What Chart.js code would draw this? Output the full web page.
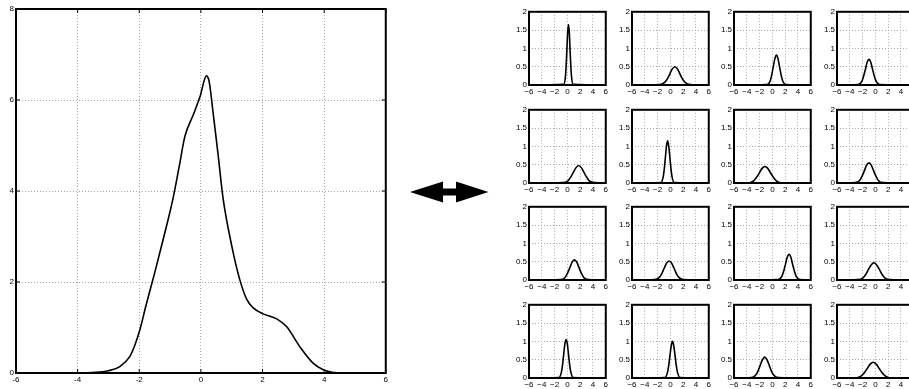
<!DOCTYPE html>
<html>
<head>
<meta charset="utf-8">
<script src="https://cdn.jsdelivr.net/npm/chart.js@4"></script>
<style>
    html, body { margin: 0; padding: 0; background: #fff; }
    body { width: 909px; height: 389px; position: relative; overflow: hidden; }
    canvas { position: absolute; }
    #arrow { position: absolute; left: 0; top: 0; }
</style>
</head>
<body>
<canvas id="big" width="390" height="389" style="left:0;top:0"></canvas>
<div id="small-wrap"></div>
<svg id="arrow" width="909" height="389">
    <polygon points="410,192 443,181.5 443,188.5 456,188.5 456,181.5 488.5,192 456,202.5 456,195.5 443,195.5 443,202.5" fill="#000"/>
</svg>
<script>
// axis ticks
const xTicks = [-6, -4, -2, 0, 2, 4, 6];
const bigYTicks = [0, 2, 4, 6, 8];
const smallYTicks = [0, 0.5, 1, 1.5, 2];

// big density curve
const bigX = [-6, -4, -3.5, -3.0, -2.63, -2.31, -2.15, -1.98, -1.79, -1.5, -1.2, -0.9, -0.7, -0.52, -0.25, -0.03, 0.18, 0.27, 0.4, 0.55, 0.72, 1.0, 1.25, 1.48, 1.7, 2.02, 2.46, 2.78, 3.21, 3.65, 3.97, 4.3, 4.6, 6];
const bigY = [0, 0, 0.01, 0.05, 0.14, 0.36, 0.6, 0.95, 1.46, 2.2, 3.0, 3.85, 4.55, 5.2, 5.67, 6.07, 6.53, 6.4, 5.7, 4.85, 3.84, 2.8, 2.08, 1.63, 1.43, 1.3, 1.19, 1.02, 0.58, 0.21, 0.07, 0.01, 0, 0];

// 4x4 small panels, row by row
const smallX = [
    [-6, -0.55, -0.31, -0.19, -0.07, 0.05, 0.17, 0.29, 0.41, 0.53, 0.65, 0.89, 6],
    [-6, -1.7, -0.9, -0.5, -0.1, 0.3, 0.7, 1.1, 1.5, 1.9, 2.3, 3.1, 6],
    [-6, -0.84, -0.35, -0.11, 0.14, 0.39, 0.63, 0.88, 1.12, 1.37, 1.61, 2.1, 6],
    [-6, -2.71, -2.14, -1.86, -1.57, -1.29, -1.0, -0.72, -0.43, -0.15, 0.14, 0.71, 6],
    [-6, -0.73, 0.1, 0.52, 0.93, 1.35, 1.76, 2.18, 2.59, 3.01, 3.42, 4.25, 6],
    [-6, -1.48, -1.13, -0.96, -0.78, -0.61, -0.43, -0.26, -0.08, 0.1, 0.27, 0.62, 6],
    [-6, -3.83, -2.94, -2.5, -2.05, -1.61, -1.16, -0.72, -0.27, 0.18, 0.62, 1.51, 6],
    [-6, -3.19, -2.46, -2.1, -1.73, -1.37, -1.0, -0.64, -0.27, 0.1, 0.46, 1.19, 6],
    [-6, -1.09, -0.36, 0.0, 0.37, 0.74, 1.1, 1.47, 1.83, 2.2, 2.56, 3.29, 6],
    [-6, -2.51, -1.74, -1.36, -0.97, -0.59, -0.2, 0.19, 0.57, 0.96, 1.34, 2.11, 6],
    [-6, 0.89, 1.46, 1.75, 2.03, 2.32, 2.6, 2.89, 3.17, 3.46, 3.74, 4.31, 6],
    [-6, -2.78, -1.93, -1.51, -1.08, -0.66, -0.23, 0.2, 0.62, 1.05, 1.47, 2.32, 6],
    [-6, -1.34, -0.96, -0.77, -0.58, -0.39, -0.2, -0.01, 0.18, 0.37, 0.56, 0.94, 6],
    [-6, -0.87, -0.47, -0.27, -0.07, 0.13, 0.33, 0.53, 0.73, 0.93, 1.13, 1.53, 6],
    [-6, -3.3, -2.6, -2.25, -1.9, -1.55, -1.2, -0.85, -0.5, -0.15, 0.2, 0.9, 6],
    [-6, -3.13, -2.2, -1.74, -1.27, -0.81, -0.34, 0.13, 0.59, 1.06, 1.52, 2.45, 6]
];
const smallY = [
    [0, 0.02, 0.22, 0.54, 1.0, 1.46, 1.65, 1.46, 1.0, 0.54, 0.22, 0.02, 0],
    [0, 0.01, 0.07, 0.16, 0.30, 0.44, 0.5, 0.44, 0.30, 0.16, 0.07, 0.01, 0],
    [0, 0.01, 0.11, 0.27, 0.50, 0.72, 0.82, 0.72, 0.50, 0.27, 0.11, 0.01, 0],
    [0, 0.01, 0.09, 0.23, 0.42, 0.62, 0.7, 0.62, 0.42, 0.23, 0.09, 0.01, 0],
    [0, 0.01, 0.06, 0.16, 0.29, 0.42, 0.48, 0.42, 0.29, 0.16, 0.06, 0.01, 0],
    [0, 0.01, 0.16, 0.37, 0.70, 1.01, 1.15, 1.01, 0.70, 0.37, 0.16, 0.01, 0],
    [0, 0.0, 0.06, 0.15, 0.27, 0.40, 0.45, 0.40, 0.27, 0.15, 0.06, 0.0, 0],
    [0, 0.01, 0.07, 0.18, 0.33, 0.49, 0.55, 0.49, 0.33, 0.18, 0.07, 0.01, 0],
    [0, 0.01, 0.07, 0.18, 0.33, 0.49, 0.55, 0.49, 0.33, 0.18, 0.07, 0.01, 0],
    [0, 0.01, 0.07, 0.17, 0.32, 0.46, 0.52, 0.46, 0.32, 0.17, 0.07, 0.01, 0],
    [0, 0.01, 0.09, 0.23, 0.42, 0.62, 0.7, 0.62, 0.42, 0.23, 0.09, 0.01, 0],
    [0, 0.01, 0.06, 0.15, 0.29, 0.41, 0.47, 0.41, 0.29, 0.15, 0.06, 0.01, 0],
    [0, 0.01, 0.14, 0.34, 0.64, 0.93, 1.05, 0.93, 0.64, 0.34, 0.14, 0.01, 0],
    [0, 0.01, 0.14, 0.33, 0.61, 0.88, 1.0, 0.88, 0.61, 0.33, 0.14, 0.01, 0],
    [0, 0.01, 0.08, 0.19, 0.35, 0.50, 0.57, 0.50, 0.35, 0.19, 0.08, 0.01, 0],
    [0, 0.0, 0.06, 0.14, 0.26, 0.38, 0.43, 0.38, 0.26, 0.14, 0.06, 0.0, 0]
];

const FONT = { family: '"Liberation Sans", Arial, sans-serif', size: 8 };

// black frame + inward tick marks like matlab axes
const boxPlugin = {
    id: 'box',
    afterDraw(chart, args, opts) {
        const a = chart.chartArea;
        const ctx = chart.ctx;
        ctx.save();
        ctx.strokeStyle = '#000';
        ctx.lineWidth = opts.tick;
        if (opts.tickLen > 0) {
            ctx.beginPath();
            chart.scales.x.ticks.forEach(t => {
                const px = chart.scales.x.getPixelForValue(t.value);
                ctx.moveTo(px, a.top); ctx.lineTo(px, a.top + opts.tickLen);
                ctx.moveTo(px, a.bottom); ctx.lineTo(px, a.bottom - opts.tickLen);
            });
            chart.scales.y.ticks.forEach(t => {
                const py = chart.scales.y.getPixelForValue(t.value);
                ctx.moveTo(a.left, py); ctx.lineTo(a.left + opts.tickLen, py);
                ctx.moveTo(a.right, py); ctx.lineTo(a.right - opts.tickLen, py);
            });
            ctx.stroke();
        }
        ctx.lineWidth = opts.width;
        ctx.strokeRect(a.left, a.top, a.right - a.left, a.bottom - a.top);
        ctx.restore();
    }
};

function makePlot(canvas, xs, ys, cfg) {
    const points = xs.map((x, i) => ({ x: x, y: ys[i] }));
    const minus = cfg.minus;
    return new Chart(canvas.getContext('2d'), {
        type: 'line',
        data: {
            datasets: [{
                data: points,
                borderColor: '#000',
                borderWidth: cfg.lineWidth,
                pointRadius: 0,
                cubicInterpolationMode: 'monotone',
                fill: false
            }]
        },
        options: {
            responsive: false,
            animation: false,
            layout: { padding: { top: cfg.padTop, right: cfg.padRight, left: 0, bottom: 0 } },
            plugins: {
                legend: { display: false },
                tooltip: { enabled: false },
                box: { width: cfg.boxWidth, tick: 1, tickLen: cfg.tickLen }
            },
            scales: {
                x: {
                    type: 'linear',
                    min: -6, max: 6,
                    afterBuildTicks: s => { s.ticks = xTicks.map(v => ({ value: v })); },
                    afterFit: s => { s.height = cfg.xHeight; },
                    grid: { color: '#a8a8a8', lineWidth: 1, drawTicks: false },
                    border: { display: false, dash: [1, 2] },
                    ticks: {
                        color: '#000', font: FONT, padding: 2, maxRotation: 0, autoSkip: false,
                        callback: v => (v < 0 ? minus + Math.abs(v) : String(v))
                    }
                },
                y: {
                    type: 'linear',
                    min: 0, max: cfg.yMax,
                    afterBuildTicks: s => { s.ticks = cfg.yTicks.map(v => ({ value: v })); },
                    afterFit: s => { s.width = cfg.yWidth; },
                    grid: { color: '#a8a8a8', lineWidth: 1, drawTicks: false },
                    border: { display: false, dash: [1, 2] },
                    ticks: {
                        color: '#000', font: FONT, padding: 2, autoSkip: false,
                        callback: v => String(v)
                    }
                }
            }
        },
        plugins: [boxPlugin]
    });
}

// big panel on the left
makePlot(document.getElementById('big'), bigX, bigY, {
    minus: '-', lineWidth: 1.6, boxWidth: 2, tickLen: 4,
    padTop: 9, padRight: 4, xHeight: 16, yWidth: 16,
    yMax: 8, yTicks: bigYTicks
});

// small multiples on the right
const colLeft = [529, 632, 734, 837];
const rowTop = [11, 109, 206, 304];
const wrap = document.getElementById('small-wrap');
for (let r = 0; r < 4; r++) {
    for (let c = 0; c < 4; c++) {
        const cv = document.createElement('canvas');
        cv.width = 111;
        cv.height = 92;
        cv.style.left = (colLeft[c] - 30) + 'px';
        cv.style.top = (rowTop[r] - 6) + 'px';
        wrap.appendChild(cv);
        const i = r * 4 + c;
        makePlot(cv, smallX[i], smallY[i], {
            minus: '\u2212', lineWidth: 1.6, boxWidth: 2, tickLen: 0,
            padTop: 6, padRight: 3, xHeight: 12, yWidth: 30,
            yMax: 2, yTicks: smallYTicks
        });
    }
}
</script>
</body>
</html>
